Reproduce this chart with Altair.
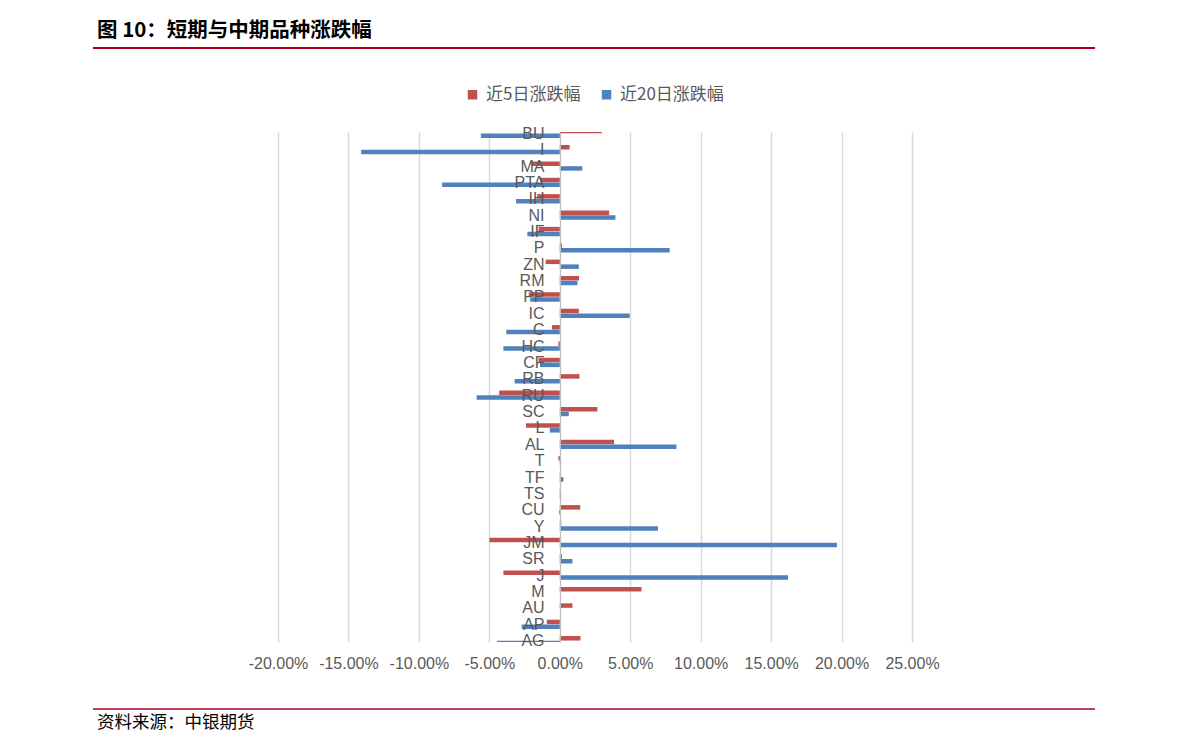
import altair as alt
import pandas as pd

TITLE = "图 10：短期与中期品种涨跌幅"
SOURCE = "资料来源：中银期货"
SERIES = ["近5日涨跌幅", "近20日涨跌幅"]
COLORS = ["#C0504D", "#4F81BD"]

categories = ["BU", "I", "MA", "PTA", "IH", "NI", "IF", "P", "ZN", "RM", "PP", "IC",
              "C", "HC", "CF", "RB", "RU", "SC", "L", "AL", "T", "TF", "TS", "CU",
              "Y", "JM", "SR", "J", "M", "AU", "AP", "AG"]
chg_5d = [3.0, 0.7, -2.0, -1.4, -1.6, 3.5, -1.5, 0.15, -1.0, 1.37, -2.2, 1.35,
          -0.55, -0.1, -1.5, 1.4, -4.3, 2.67, -2.4, 3.85, -0.1, 0.05, 0.02, 1.45,
          0.1, -4.99, 0.15, -4.0, 5.8, 0.9, -0.92, 1.47]
chg_20d = [-5.6, -14.1, 1.6, -8.35, -3.1, 3.95, -2.3, 7.8, 1.35, 1.25, -2.1, 4.96,
           -3.8, -4.0, -1.4, -3.2, -5.9, 0.64, -0.71, 8.28, 0.1, 0.26, 0.1, -0.05,
           6.97, 19.67, 0.9, 16.2, 0.0, 0.0, -2.7, -4.45]
x_ticks = [-0.2, -0.15, -0.1, -0.05, 0, 0.05, 0.1, 0.15, 0.2, 0.25]

rows = []
for c, a, b in zip(categories, chg_5d, chg_20d):
    rows.append({"cat": c, "series": SERIES[0], "v": a / 100})
    rows.append({"cat": c, "series": SERIES[1], "v": b / 100})
df = pd.DataFrame(rows)

FONT = "Liberation Sans"
GRAY = "#595959"

color = alt.Color("series:N", scale=alt.Scale(domain=SERIES, range=COLORS),
                  sort=SERIES,
                  legend=alt.Legend(title=None, orient="none", legendX=186, legendY=-46,
                                    direction="horizontal", symbolType="square",
                                    symbolSize=90, symbolStrokeWidth=0,
                                    labelFont="Noto Sans CJK SC", labelFontSize=17,
                                    labelColor=GRAY, columnPadding=17, labelOffset=5))

xenc = alt.X("v:Q", scale=alt.Scale(domain=[-0.20, 0.25], nice=False),
             axis=alt.Axis(title=None, values=x_ticks,
                           labelExpr="replace(format(datum.value, '.2%'), '\u2212', '-')",
                           labelOverlap=False, labelFlush=False,
                           grid=True, gridColor="#d9d9d9", gridWidth=1.5, domain=False,
                           ticks=False, labelFont=FONT, labelFontSize=16, labelColor=GRAY,
                           labelPadding=13))
yenc = alt.Y("cat:N", sort=categories,
             scale=alt.Scale(type="point", padding=0.08),
             axis=alt.Axis(title=None, offset=-282, zindex=1, ticks=False, domain=True,
                           domainColor="#bfbfbf", domainWidth=1, labelFont=FONT,
                           labelFontSize=16, labelColor=GRAY, labelPadding=16,
                           labelBaseline="middle", grid=False))

base = alt.Chart(df)
red = base.transform_filter(alt.datum.series == SERIES[0]).mark_bar(
    size=4.5, yOffset=-2.4, clip=True).encode(x=xenc, y=yenc, color=color)
blue = base.transform_filter(alt.datum.series == SERIES[1]).mark_bar(
    size=4.5, yOffset=2.4, clip=True).encode(x=xenc, y=yenc, color=color)

tdf = pd.DataFrame({"t": [TITLE]})
sdf = pd.DataFrame({"t": [SOURCE]})
title = alt.Chart(tdf).mark_text(align="left", baseline="middle", font="Noto Sans CJK SC",
                                 fontWeight="bold", fontSize=20.5, color="#000000").encode(
    text="t:N", x=alt.value(-181), y=alt.value(-101))
source = alt.Chart(sdf).mark_text(align="left", baseline="middle", font="Noto Sans CJK SC",
                                  fontSize=17.5, color="#000000").encode(
    text="t:N", x=alt.value(-181), y=alt.value(591))
hline = alt.Chart(tdf).mark_rule(color="#A50021", strokeWidth=2).encode(
    x=alt.value(-185), x2=alt.value(817), y=alt.value(-84))
fline = alt.Chart(sdf).mark_rule(color="#A50021", strokeWidth=1.5).encode(
    x=alt.value(-185), x2=alt.value(817), y=alt.value(577))

chart = alt.layer(red, blue, title, source, hline, fline).properties(
    width=634, height=510, autosize="none", background="white",
    padding={"left": 270, "top": 124, "right": 271, "bottom": 103},
).configure_view(stroke=None)

chart.save("out.html", embed_options={"renderer": "svg", "actions": False})
